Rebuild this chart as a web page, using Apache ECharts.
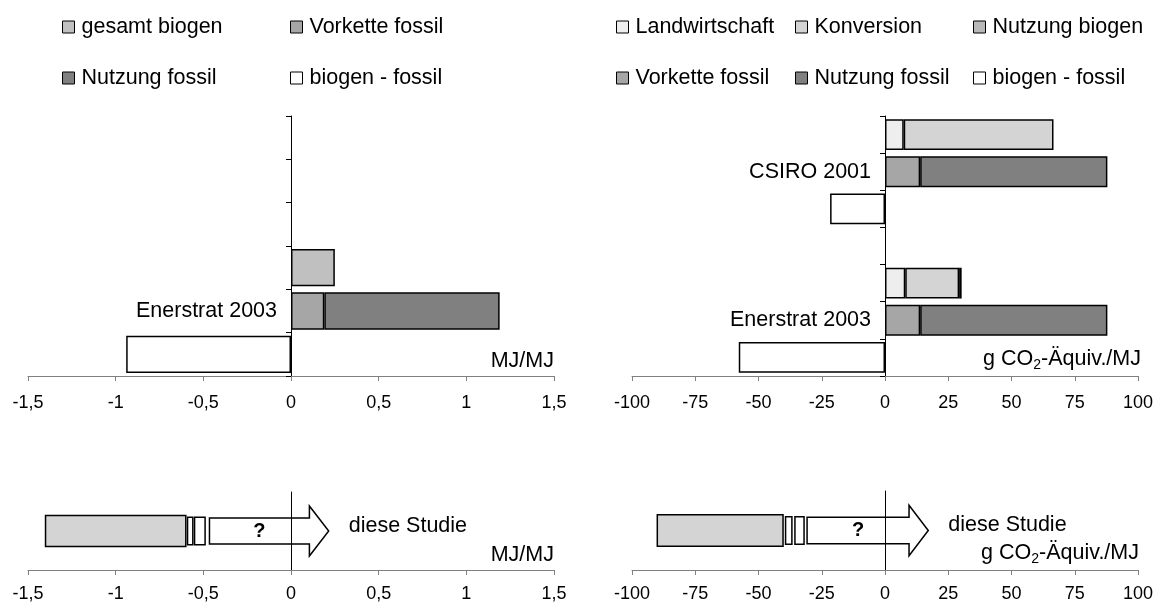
<!DOCTYPE html>
<html>
<head>
<meta charset="utf-8">
<script src="https://cdn.jsdelivr.net/npm/echarts@6/dist/echarts.min.js"></script>
<style>
html, body { margin: 0; padding: 0; background: #fff; }
#chart { width: 1160px; height: 608px; }
</style>
</head>
<body>
<div id="chart"></div>
<script>
// Energie (MJ/MJ), Zeilen von oben nach unten
var energyRows = ['', '', '', '', 'Enerstrat 2003', ''];
var energyGesamtBiogen = ['-', '-', '-', 0.25, '-', '-'];
var energyVorketteFossil = ['-', '-', '-', '-', 0.19, '-'];
var energyNutzungFossil = ['-', '-', '-', '-', 1.0, '-'];
var energyDiff = ['-', '-', '-', '-', '-', -0.94];
var energyTicks = [-1.5, -1, -0.5, 0, 0.5, 1, 1.5];

// Treibhausgase (g CO2-Äquiv./MJ), Zeilen von oben nach unten
var ghgRows = ['', 'CSIRO 2001', '', '', '', 'Enerstrat 2003', ''];
var ghgLandwirtschaft = [7.4, '-', '-', '-', 8.0, '-', '-'];
var ghgKonversion = [59.2, '-', '-', '-', 21.3, '-', '-'];
var ghgNutzungBiogen = ['-', '-', '-', '-', 1.0, '-', '-'];
var ghgVorketteFossil = ['-', 13.9, '-', '-', '-', 13.9, '-'];
var ghgNutzungFossil = ['-', 74.0, '-', '-', '-', 74.0, '-'];
var ghgDiff = ['-', '-', -21.7, '-', '-', '-', -57.8];
var ghgTicks = [-100, -75, -50, -25, 0, 25, 50, 75, 100];

// diese Studie: Abschnitte [von, bis], Pfeil [von, Schaftende, Spitze]
var studyRows = ['diese Studie'];
var studyEnergyBlocks = [[-1.4, -0.6], [-0.59, -0.56], [-0.55, -0.49]];
var studyEnergyArrow = [-0.465, 0.105, 0.215];
var studyGhgBlocks = [[-90, -40.3], [-39.3, -36.8], [-35.6, -32.0]];
var studyGhgArrow = [-30.8, 9.5, 17.1];

var FONT = '"Liberation Sans", Arial, sans-serif';
var colors = {
    'gesamt biogen': '#c0c0c0',
    'Vorkette fossil': '#a6a6a6',
    'Nutzung fossil': '#808080',
    'biogen - fossil': '#ffffff',
    'Landwirtschaft': '#eeeeee',
    'Konversion': '#d4d4d4',
    'Nutzung biogen': '#b8b8b8'
};

var grids = [
    { left: 28, top: 116, width: 526, height: 260, outerBoundsMode: 'none', containLabel: false },
    { left: 632, top: 116, width: 506, height: 260, outerBoundsMode: 'none', containLabel: false },
    { left: 28, top: 492, width: 526, height: 78, outerBoundsMode: 'none', containLabel: false },
    { left: 632, top: 491, width: 506, height: 79, outerBoundsMode: 'none', containLabel: false }
];

var chart = echarts.init(document.getElementById('chart'));

function fmt(v) {
    return String(v).replace('.', ',');
}

// Abstand der Null-Linie vom linken Gitterrand
function zeroOffset(gridIndex, ticks) {
    var lo = ticks[0], hi = ticks[ticks.length - 1];
    return -grids[gridIndex].width * (0 - lo) / (hi - lo);
}

function valueAxis(gridIndex, ticks, name, nameGap, labelMargin) {
    return {
        type: 'value',
        gridIndex: gridIndex,
        min: ticks[0],
        max: ticks[ticks.length - 1],
        interval: ticks[1] - ticks[0],
        splitLine: { show: false },
        axisLine: { show: true, lineStyle: { color: '#808080', width: 1 } },
        axisTick: { show: true, length: 5, lineStyle: { color: '#808080' } },
        axisLabel: { margin: labelMargin, fontSize: 18, color: '#000', fontFamily: FONT, formatter: fmt },
        name: name,
        nameLocation: 'end',
        nameGap: nameGap,
        nameTextStyle: {
            align: 'right', verticalAlign: 'bottom', padding: [0, 0, 4, 0],
            fontSize: 21.5, color: '#000', fontFamily: FONT,
            rich: {
                a: { fontSize: 21.5, color: '#000', fontFamily: FONT, lineHeight: 26 },
                s: { fontSize: 14, color: '#000', fontFamily: FONT, lineHeight: 10, verticalAlign: 'bottom' }
            }
        }
    };
}

function rowAxis(gridIndex, rows, ticks) {
    return {
        type: 'category',
        gridIndex: gridIndex,
        data: rows,
        inverse: true,
        offset: zeroOffset(gridIndex, ticks),
        axisLine: { show: true, onZero: false, lineStyle: { color: '#000', width: 1 } },
        axisTick: { show: true, inside: false, length: 5, lineStyle: { color: '#000', width: 1 } },
        axisLabel: { margin: 14, fontSize: 21.5, color: '#000', fontFamily: FONT }
    };
}

function studyAxis(gridIndex, ticks) {
    return {
        type: 'category',
        gridIndex: gridIndex,
        data: studyRows,
        offset: zeroOffset(gridIndex, ticks),
        axisLine: { show: true, onZero: false, lineStyle: { color: '#000', width: 1 } },
        axisTick: { show: false },
        axisLabel: { show: false }
    };
}

function bar(name, data, axisIndex, gap) {
    return {
        name: name,
        type: 'bar',
        stack: 'st' + axisIndex,
        xAxisIndex: axisIndex,
        yAxisIndex: axisIndex,
        barCategoryGap: gap,
        data: data,
        itemStyle: { color: colors[name], borderColor: '#000', borderWidth: 1.5 },
        emphasis: { disabled: true }
    };
}

function renderBlock(params, api) {
    var cat = api.value(2);
    var a = api.coord([api.value(0), cat]);
    var b = api.coord([api.value(1), cat]);
    var band = api.size([0, 1])[1];
    var h = params.dataIndex === 0 ? band * 0.4 : band * 0.35;
    return {
        type: 'rect',
        shape: { x: a[0], y: a[1] - h / 2, width: b[0] - a[0], height: h },
        style: { fill: params.dataIndex === 0 ? '#d4d4d4' : '#fff', stroke: '#000', lineWidth: 1.5 }
    };
}

function renderArrow(params, api) {
    var cat = api.value(3);
    var p0 = api.coord([api.value(0), cat]);
    var xb = api.coord([api.value(1), cat])[0];
    var xt = api.coord([api.value(2), cat])[0];
    var x0 = p0[0], y = p0[1];
    var band = api.size([0, 1])[1];
    var hb = band * 0.167, hh = band * 0.32;
    return {
        type: 'group',
        children: [
            {
                type: 'polygon',
                shape: { points: [[x0, y - hb], [xb, y - hb], [xb, y - hh], [xt, y], [xb, y + hh], [xb, y + hb], [x0, y + hb]] },
                style: { fill: 'rgba(255,255,255,0)', stroke: '#000', lineWidth: 1.5 }
            },
            {
                type: 'text', x: (x0 + xb) / 2, y: y,
                style: { text: '?', font: 'bold 20px ' + FONT, fill: '#000', align: 'center', verticalAlign: 'middle' }
            },
            {
                type: 'text', x: xt + 20, y: y - 5,
                style: { text: studyRows[0], font: '21.5px ' + FONT, fill: '#000', align: 'left', verticalAlign: 'middle' }
            }
        ]
    };
}

function blocks(data, axisIndex) {
    return {
        type: 'custom',
        xAxisIndex: axisIndex,
        yAxisIndex: axisIndex,
        renderItem: renderBlock,
        encode: { x: [0, 1], y: 2 },
        data: data.map(function (d) { return [d[0], d[1], 0]; }),
        silent: true
    };
}

function arrow(data, axisIndex) {
    return {
        type: 'custom',
        xAxisIndex: axisIndex,
        yAxisIndex: axisIndex,
        renderItem: renderArrow,
        encode: { x: [0, 1, 2], y: 3 },
        data: [[data[0], data[1], data[2], 0]],
        silent: true
    };
}

// Legenden einzeln platziert
var legendItems = [
    ['gesamt biogen', 62, 16], ['Vorkette fossil', 290, 16],
    ['Nutzung fossil', 62, 67], ['biogen - fossil', 290, 67],
    ['Landwirtschaft', 616, 16], ['Konversion', 795, 16], ['Nutzung biogen', 973, 16],
    ['Vorkette fossil', 616, 67], ['Nutzung fossil', 795, 67], ['biogen - fossil', 973, 67]
];
var legends = legendItems.map(function (it) {
    return {
        data: [it[0]],
        left: it[1],
        top: it[2],
        padding: 0,
        icon: 'rect',
        itemWidth: 12,
        itemHeight: 12,
        selectedMode: false,
        itemStyle: { borderColor: '#000', borderWidth: 1 },
        textStyle: { fontSize: 21.5, color: '#000', fontFamily: FONT, padding: [0, 0, 0, 2] }
    };
});

var option = {
    animation: false,
    backgroundColor: '#fff',
    legend: legends,
    grid: grids,
    xAxis: [
        valueAxis(0, energyTicks, 'MJ/MJ', 0, 18),
        valueAxis(1, ghgTicks, '{a|g CO}{s|2}{a|-Äquiv./MJ}', 3, 18),
        valueAxis(2, energyTicks, 'MJ/MJ', 0, 15),
        valueAxis(3, ghgTicks, '{a|g CO}{s|2}{a|-Äquiv./MJ}', 1, 15)
    ],
    yAxis: [
        rowAxis(0, energyRows, energyTicks),
        rowAxis(1, ghgRows, ghgTicks),
        studyAxis(2, energyTicks),
        studyAxis(3, ghgTicks)
    ],
    series: [
        bar('gesamt biogen', energyGesamtBiogen, 0, '14%'),
        bar('Vorkette fossil', energyVorketteFossil, 0, '14%'),
        bar('Nutzung fossil', energyNutzungFossil, 0, '14%'),
        bar('biogen - fossil', energyDiff, 0, '14%'),
        bar('Landwirtschaft', ghgLandwirtschaft, 1, '17%'),
        bar('Konversion', ghgKonversion, 1, '17%'),
        bar('Nutzung biogen', ghgNutzungBiogen, 1, '17%'),
        bar('Vorkette fossil', ghgVorketteFossil, 1, '17%'),
        bar('Nutzung fossil', ghgNutzungFossil, 1, '17%'),
        bar('biogen - fossil', ghgDiff, 1, '17%'),
        blocks(studyEnergyBlocks, 2),
        arrow(studyEnergyArrow, 2),
        blocks(studyGhgBlocks, 3),
        arrow(studyGhgArrow, 3)
    ]
};

chart.setOption(option);
</script>
</body>
</html>
